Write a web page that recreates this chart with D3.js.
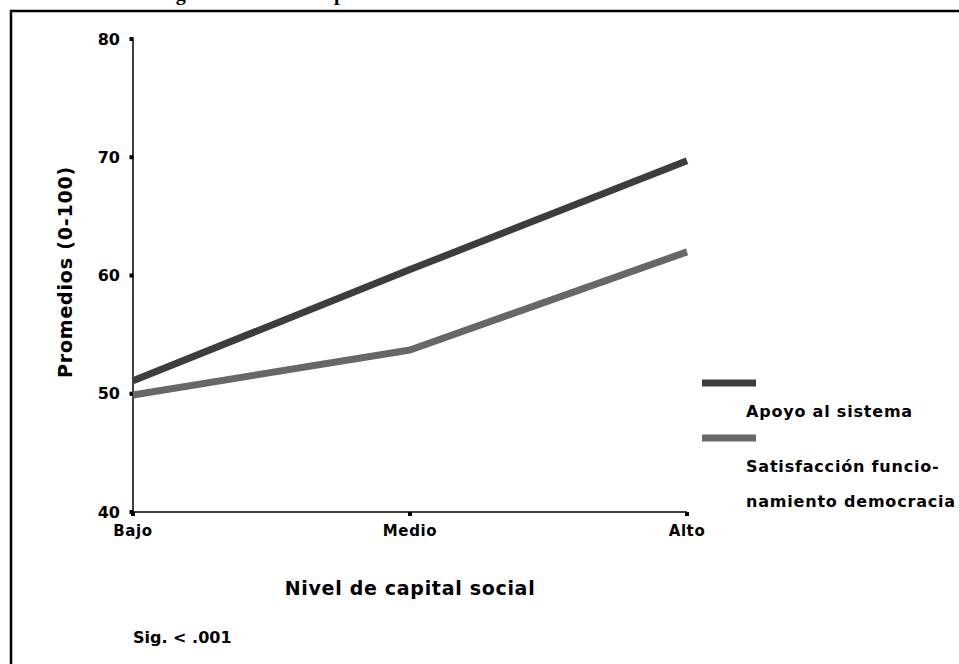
<!DOCTYPE html>
<html>
<head>
<meta charset="utf-8">
<script src="https://cdn.jsdelivr.net/npm/d3@7"></script>
<style>
  html, body { margin: 0; padding: 0; background: #fff; overflow: hidden; }
  svg { display: block; }
  text { font-family: "DejaVu Sans", "Liberation Sans", Arial, sans-serif; font-weight: bold; fill: #000; }
</style>
</head>
<body>
<svg id="chart" width="959" height="664"></svg>
<script>
// ---- data ----
const categories = ["Bajo", "Medio", "Alto"];
const seriesNames = ["Apoyo al sistema", "Satisfacción funcio-|namiento democracia"];
const apoyoValues = [51.1, 60.5, 69.7];
const satisfaccionValues = [49.9, 53.7, 62.0];
const yTickValues = [40, 50, 60, 70, 80];
const yLabel = "Promedios (0-100)";
const xLabel = "Nivel de capital social";
const noteText = "Sig. < .001";
const titleText = "Figura 1. Nivel de capital social";

const seriesColors = ["#3d3d3d", "#676767"];

const svg = d3.select("#chart");

// clipped title (only descenders visible, as in the reference)
svg.append("text")
  .attr("x", 158).attr("y", 0)
  .style("font-family", "'Liberation Serif', 'Times New Roman', serif")
  .style("font-size", "20px")
  .text(titleText);

// frame
svg.append("path")
  .attr("d", "M11,670 L11,11 L965,11")
  .attr("fill", "none").attr("stroke", "#000").attr("stroke-width", 2.5);

// scales
const x = d3.scalePoint().domain(categories).range([133, 687]);
const y = d3.scaleLinear().domain([40, 80]).range([512, 39]);

// y axis
svg.append("line").attr("x1", 133).attr("x2", 133).attr("y1", y(80)).attr("y2", y(40))
  .attr("stroke", "#000").attr("stroke-width", 1.5);
svg.selectAll(".ytick").data(yTickValues).enter().append("rect")
  .attr("x", 129.5).attr("y", d => y(d) - 2).attr("width", 4).attr("height", 4).attr("fill", "#000");
svg.selectAll(".ylab").data(yTickValues).enter().append("text")
  .attr("x", 120).attr("y", d => y(d) + 5.5)
  .attr("text-anchor", "end").style("font-size", "16px")
  .text(d => d);

// x axis
svg.append("line").attr("x1", x("Bajo")).attr("x2", x("Alto")).attr("y1", 512).attr("y2", 512)
  .attr("stroke", "#000").attr("stroke-width", 1.5);
svg.selectAll(".xtick").data(categories).enter().append("rect")
  .attr("x", d => x(d) - 2).attr("y", 512).attr("width", 4).attr("height", 4).attr("fill", "#000");
svg.selectAll(".xlab").data(categories).enter().append("text")
  .attr("x", d => x(d)).attr("y", 536)
  .attr("text-anchor", "middle").style("font-size", "15px").style("letter-spacing", "0.6px")
  .text(d => d);

// lines
const line = d3.line().x((d, i) => x(categories[i])).y(d => y(d));
[apoyoValues, satisfaccionValues].forEach((vals, i) => {
  svg.append("path").datum(vals)
    .attr("d", line)
    .attr("fill", "none")
    .attr("stroke", seriesColors[i])
    .attr("stroke-width", 7)
    .attr("stroke-linejoin", "round");
});

// axis titles
svg.append("text")
  .attr("transform", "translate(72,272) rotate(-90)")
  .attr("text-anchor", "middle").style("font-size", "19px").style("letter-spacing", "0.8px")
  .text(yLabel);
svg.append("text")
  .attr("x", 410).attr("y", 595)
  .attr("text-anchor", "middle").style("font-size", "19px").style("letter-spacing", "0.7px")
  .text(xLabel);
svg.append("text")
  .attr("x", 133).attr("y", 643)
  .style("font-size", "16px")
  .text(noteText);

// legend
const legendY = [383, 438];
seriesNames.forEach((name, i) => {
  svg.append("rect").attr("x", 702).attr("y", legendY[i] - 3.5).attr("width", 54).attr("height", 7)
    .attr("fill", seriesColors[i]);
  name.split("|").forEach((ln, j) => {
    svg.append("text")
      .attr("x", 746).attr("y", legendY[i] + 34 + j * 35)
      .style("font-size", "16px").style("letter-spacing", "0.8px")
      .text(ln);
  });
});
</script>
</body>
</html>
